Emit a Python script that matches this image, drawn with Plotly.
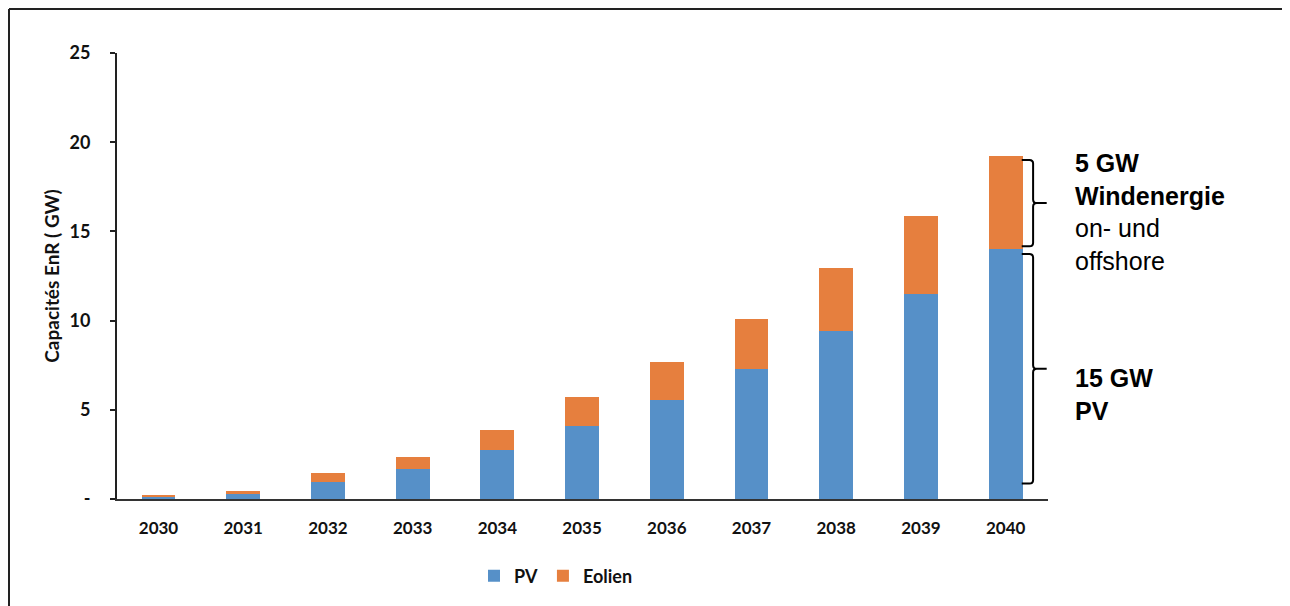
import plotly.graph_objects as go

years = ["2030", "2031", "2032", "2033", "2034", "2035", "2036", "2037", "2038", "2039", "2040"]
pv = [0.13, 0.27, 0.97, 1.70, 2.76, 4.10, 5.54, 7.30, 9.42, 11.48, 14.00]
eolien = [0.07, 0.18, 0.47, 0.65, 1.09, 1.60, 2.13, 2.78, 3.55, 4.37, 5.22]
y_tickvals = [0, 5, 10, 15, 20, 25]
y_ticktext = ["-", "5", "10", "15", "20", "25"]

BLUE = "#5690C8"
ORANGE = "#E67F3E"
AXFONT = "Lato"
TXT = "#111111"

fig = go.Figure()
fig.add_trace(go.Bar(x=years, y=pv, name="PV", marker=dict(color=BLUE, line=dict(width=0))))
fig.add_trace(go.Bar(x=years, y=eolien, name="Eolien", marker=dict(color=ORANGE, line=dict(width=0))))

total_last = pv[-1] + eolien[-1]
pv_last = pv[-1]

def brace(ytop, ybot, xa=0.9718, xb=0.984, xt=0.9986, c=0.004, d=0.2):
    ymid = (ytop + ybot) / 2
    return (f"M {xa},{ytop} L {xb-c},{ytop} Q {xb},{ytop} {xb},{ytop-d} "
            f"L {xb},{ymid+d} Q {xb},{ymid} {xb+c},{ymid} L {xt},{ymid} "
            f"M {xb+c},{ymid} Q {xb},{ymid} {xb},{ymid-d} "
            f"L {xb},{ybot+d} Q {xb},{ybot} {xb-c},{ybot} L {xa},{ybot}")

# page body has an 8px margin: figure is sized/placed to compensate
W, H = 1282, 598
L, T = 109, 45
PW, PH = 931, 446
R, B = W - L - PW, H - T - PH

def px2paper_x(px):
    return (px - 8 - L) / PW

def px2paper_y(py):
    return (T + PH - (py - 8)) / PH

shapes = [
    dict(type="path", xref="paper", yref="y", path=brace(total_last - 0.22, pv_last + 0.17),
         line=dict(color="black", width=2)),
    dict(type="path", xref="paper", yref="y", path=brace(pv_last - 0.27, 0.87),
         line=dict(color="black", width=2)),
    # outer frame (top and left)
    dict(type="line", xref="paper", yref="paper", x0=px2paper_x(9), x1=px2paper_x(1300),
         y0=px2paper_y(9), y1=px2paper_y(9), line=dict(color="#222", width=2)),
    dict(type="line", xref="paper", yref="paper", x0=px2paper_x(9), x1=px2paper_x(9),
         y0=px2paper_y(9), y1=px2paper_y(620), line=dict(color="#222", width=2)),
]

annotations = [
    dict(xref="paper", yref="y", x=px2paper_x(1073), y=16.1, xanchor="left", yanchor="middle",
         text="<b>5 GW</b><br><b>Windenergie</b><br>on- und<br>offshore", align="left",
         showarrow=False, font=dict(family="Liberation Sans, Arial", size=25, color="black")),
    dict(xref="paper", yref="y", x=px2paper_x(1073), y=5.85, xanchor="left", yanchor="middle",
         text="<b>15 GW</b><br><b>PV</b>", align="left",
         showarrow=False, font=dict(family="Liberation Sans, Arial", size=25, color="black")),
]

fig.update_layout(
    barmode="stack",
    bargap=0.6,
    width=W, height=H,
    margin=dict(l=L, r=R, t=T, b=B, autoexpand=False),
    plot_bgcolor="white", paper_bgcolor="white",
    shapes=shapes, annotations=annotations,
    legend=dict(orientation="h", traceorder="normal", x=px2paper_x(474), xanchor="left",
                y=px2paper_y(576), yanchor="middle",
                font=dict(family=AXFONT, size=18, color=TXT, weight="bold"),
                itemclick=False, bgcolor="rgba(0,0,0,0)"),
    font=dict(family=AXFONT, color=TXT),
)
fig.update_xaxes(type="category", range=[-0.49, 10.5], showline=True, linecolor="#333",
                 linewidth=2, ticks="", showgrid=False, zeroline=False,
                 tickfont=dict(family=AXFONT, size=17, weight="bold", color=TXT),
                 ticklabelstandoff=13)
fig.update_yaxes(range=[0, 25], tickvals=y_tickvals, ticktext=y_ticktext, showline=True,
                 linecolor="#222", linewidth=2, ticks="outside", ticklen=5, tickwidth=2,
                 tickcolor="#222", showgrid=False, zeroline=False,
                 tickfont=dict(family=AXFONT, size=18, weight="bold", color=TXT),
                 ticklabelstandoff=16,
                 title=dict(text="Capacités EnR ( GW)", standoff=5,
                            font=dict(family=AXFONT, size=19, weight="bold", color=TXT)))

fig.write_html("out.html")
